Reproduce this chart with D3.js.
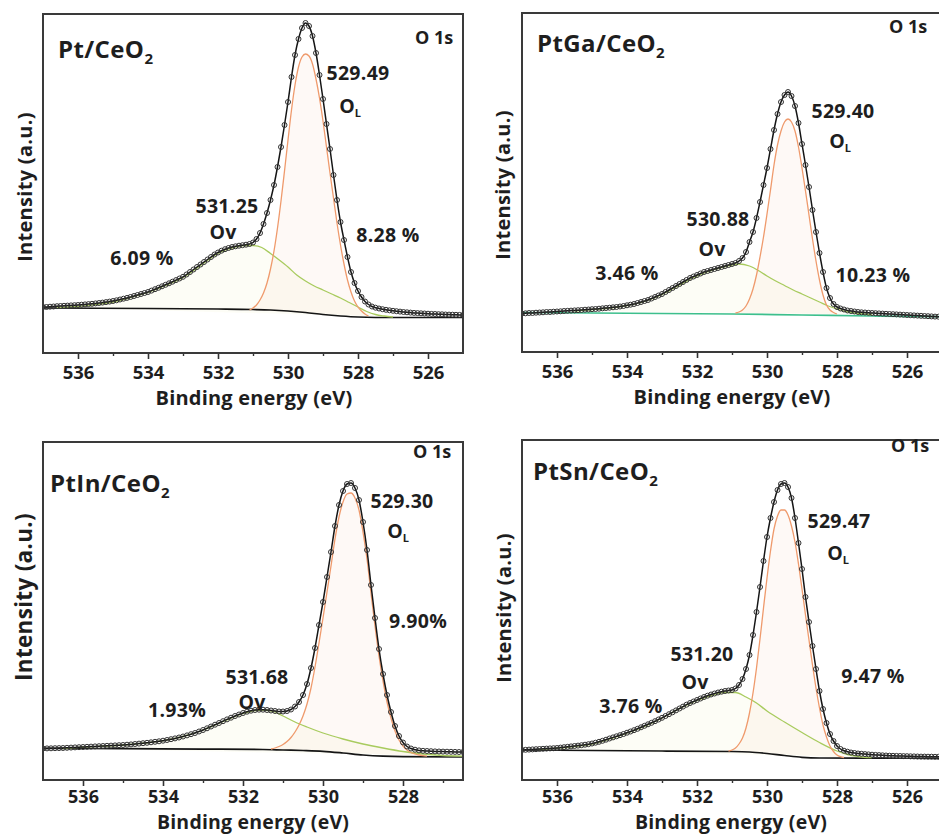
<!DOCTYPE html>
<html><head><meta charset="utf-8">
<script src="https://cdn.jsdelivr.net/npm/d3@7/dist/d3.min.js"></script>
<style>
body{margin:0;background:#fff;}
svg{display:block;}
text{font-family:'Open Sans',sans-serif;font-weight:700;fill:#1e1e1e;}
</style></head><body>
<svg id="chart" width="939" height="836"></svg>
<script>
// ---------------- DATA ----------------
const sampleNames = ['Pt/CeO', 'PtGa/CeO', 'PtIn/CeO', 'PtSn/CeO'];
const olPeakLabels = ['529.49', '529.40', '529.30', '529.47'];
const ovPeakLabels = ['531.25', '530.88', '531.68', '531.20'];
const ovPercent = ['6.09 %', '3.46 %', '1.93%', '3.76 %'];
const olPercent = ['8.28 %', '10.23 %', '9.90%', '9.47 %'];
const coreLevel = 'O 1s';
const xTitle = 'Binding energy (eV)';
const yTitle = 'Intensity (a.u.)';

const majorTicksWide = [536, 534, 532, 530, 528, 526];
const minorTicksWide = [535, 533, 531, 529, 527];
const majorTicksNarrow = [536, 534, 532, 530, 528];
const minorTicksNarrow = [535, 533, 531, 529, 527];

const STEP = 0.1; // eV between measured points
const startEnergy = 537;

// measured points (intensity, a.u.), from 537 eV downward in 0.1 eV steps
const ptData = [46,46,46.3,46.5,46.8,47,47.2,47.4,47.6,47.8,
 48,48.3,48.6,48.9,49.2,49.6,50,50.4,50.9,51.4,
 52,52.7,53.5,54.3,55.1,56,57,58,59,60,
 61,62.4,63.8,65.2,66.7,68.2,69.7,71.3,72.9,74.5,
 76.2,78.5,81,83.5,86,88.5,91,93.5,96,98.5,
 100.5,102.3,103.8,105,106,106.7,107.3,107.8,108.3,109,
 110.5,114,120,129,140,153,168,186,206,228,
 251,276,298,314,325,330,327,317,300,278,
 254,229,204,178,153,131,113,96,81,70,
 62,56,51.5,48.5,46.5,45.3,44.5,43.8,43.2,42.7,
 42.2,41.8,41.4,41,40.7,40.4,40.1,39.9,39.7,39.5,
 39.3,39.1,39,38.8,38.7,38.5,38.4,38.3,38.2,38.1,
 38];
const ptOL = [[531.1,43],[531.0,45],[530.9,48],[530.8,53],[530.7,60],[530.6,70],[530.5,84],[530.4,102],[530.3,125],[530.2,152],[530.1,182],[530.0,213],[529.9,243],[529.8,268],[529.7,286],[529.6,296],[529.5,299],[529.4,297],[529.3,289],[529.2,274],[529.1,255],[529.0,232],[528.9,206],[528.8,180],[528.7,155],[528.6,130],[528.5,108],[528.4,89],[528.3,73],[528.2,61],[528.1,52],[528.0,46],[527.9,42],[527.8,39],[527.7,37]];
const ptOV = [[536.6,45.5],[536,46.5],[535.5,48.5],[535,51],[534.5,55.5],[534,60.5],[533.5,67.5],[533,75.5],[532.5,87.5],[532,99.5],[531.75,103.5],[531.5,106],[531.25,107.5],[531,107.5],[530.75,105.5],[530.5,99.5],[530.25,93],[530,86],[529.75,78],[529.5,72],[529.25,67],[529,63],[528.75,59],[528.5,55],[528.25,50.5],[528,46],[527.75,41.5],[527.5,38.5],[527.25,37],[527,36]];
const ptBG = [[537,45],[534,44.5],[532,44],[531,43.5],[530.5,43],[530,42],[529.5,40.5],[529,38.5],[528.5,37],[528,36],[527,35.5],[525,35.5]];

const gaData = [38.5,38.7,39,39,39.3,39.5,39.7,40,40,40.3,
 40.5,40.7,41,41.2,41.4,41.6,41.8,42,42.3,42.5,
 42.8,43,43.3,43.7,44,44.3,44.7,45,45.5,46,
 46.7,47.3,48,49,50,51,52,53.5,55,56.5,
 58,60,62,64,66,68,70,72,74,75.5,
 77,78.5,80,81,82,83,84,85,86,87,
 88,89,91,94,100,110,120,134,150,167,
 184,203,222,238,250,257,260,256,246,229,
 208,187,165,142,120,99,80,64,54,48,
 45,43.5,42.5,41.5,41,40.5,40,39.7,39.5,39.2,
 39,38.8,38.6,38.4,38.2,38,37.8,37.6,37.4,37.2,
 37,36.8,36.6,36.4,36.2,36,35.8,35.6,35.4,35.3,
 35.2];
const gaOL = [[530.9,39],[530.8,40],[530.7,42],[530.6,46],[530.5,53],[530.4,63],[530.3,77],[530.2,95],[530.1,115],[530.0,138],[529.9,162],[529.8,187],[529.7,207],[529.6,221],[529.5,230],[529.4,233],[529.3,230],[529.2,221],[529.1,205],[529.0,184],[528.9,161],[528.8,137],[528.7,113],[528.6,91],[528.5,72],[528.4,57],[528.3,47],[528.2,42],[528.1,39.5],[528.0,38]];
const gaOV = [[535.5,41],[535,42.5],[534.5,44],[534,46.5],[533.5,50.5],[533,57.5],[532.5,67],[532,76],[531.5,82.5],[531,87],[530.8,88],[530.5,86],[530.2,80.5],[530,76],[529.75,71],[529.5,66.5],[529.25,62],[529,58],[528.75,54],[528.5,50],[528.25,46],[528,43],[527.75,40.5],[527.5,39],[527.25,38],[527,37.5]];
const gaBG = [[537,39.5],[535,39],[533,38.5],[531,38],[529,37],[527,36],[525,35.3]];

const inData = [31.5,31.6,31.7,31.8,31.9,32,32.2,32.4,32.6,32.8,
 33,33.2,33.4,33.6,33.8,34,34.2,34.4,34.6,34.8,
 35,35.3,35.6,36,36.4,36.8,37.2,37.7,38.2,38.7,
 39.3,40,40.8,41.6,42.5,43.5,44.6,45.8,47,48.5,
 50,51.7,53.5,55.3,57,58.8,60.6,62.3,64,65.5,
 67,68.3,69.3,70,70.3,70.3,70,69.5,69,68.5,
 68.5,69,70.5,73.5,78,85,96,112,132,155,
 178,203,228,254,275,289,296,297,292,280,
 258,230,195,162,131,106,85,68,54,44,
 37.5,33.5,31.5,30.3,29.6,29.2,29,28.8,28.6,28.5,
 28.4,28.3,28.2,28.1,28,
 28];
const inOL = [[531.3,31],[531.2,32],[531.1,33.5],[531.0,35.5],[530.9,38.5],[530.8,42.5],[530.7,48],[530.6,55],[530.5,64],[530.4,76],[530.3,92],[530.2,113],[530.1,137],[530.0,162],[529.9,188],[529.8,214],[529.7,241],[529.6,263],[529.5,278],[529.4,286],[529.3,287],[529.2,282],[529.1,270],[529.0,248],[528.9,221],[528.8,187],[528.7,154],[528.6,124],[528.5,99],[528.4,78],[528.3,62],[528.2,49],[528.1,40],[528.0,34],[527.9,30],[527.8,27.5],[527.7,26],[527.6,25],[527.5,24.3],[527.4,23.8]];
const inOV = [[536.5,31.5],[536,32.8],[535.5,33.8],[535,35],[534.5,36.8],[534,39.3],[533.5,43.5],[533,50],[532.5,58.5],[532,66.5],[531.7,69.5],[531.5,70],[531.2,68],[531,64],[530.7,58],[530.4,53],[530,47],[529.5,41],[529,36],[528.5,32],[528,28.5],[527.5,26],[527,24.5],[526.5,23.8]];
const inBG = [[537,31.7],[535,31.3],[533,30.9],[531.5,30.5],[531,30],[530.5,29.5],[530,28.7],[529.5,27],[529,25],[528.5,23.8],[528,23.3],[526.5,23]];

const snData = [30,30.2,30.4,30.6,30.8,31,31.2,31.4,31.6,31.8,
 32,32.4,32.8,33.2,33.6,34,34.4,34.8,35.3,35.8,
 36.5,37.3,38.2,39.2,40.3,41.5,42.6,43.7,44.8,46,
 47.3,48.5,49.8,51.2,52.7,54.2,55.7,57.2,58.8,60.5,
 62.2,64,65.8,67.7,69.6,71.5,73.4,75.3,77,78.5,
 80,81.5,83,84.3,85.5,86.5,87.5,88.3,89,89.5,
 90,91.5,95,101,111,125,145,168,193,219,
 243,262,278,290,296,297,293,282,262,237,
 211,183,158,134,111,89,71,57,46,39,
 34,31,29.3,28.3,27.5,27,26.5,26.2,25.9,25.6,
 25.3,25.1,24.9,24.7,24.5,24.3,24.2,24.1,24,23.9,
 23.8,23.7,23.6,23.5,23.4,23.4,23.3,23.3,23.2,23.2,
 23.2];
const snOL = [[531.1,29],[531.0,30],[530.9,32],[530.8,36],[530.7,42],[530.6,52],[530.5,67],[530.4,87],[530.3,112],[530.2,141],[530.1,172],[530.0,202],[529.9,229],[529.8,251],[529.7,264],[529.6,270],[529.5,270],[529.4,265],[529.3,254],[529.2,238],[529.1,216],[529.0,191],[528.9,165],[528.8,140],[528.7,115],[528.6,92],[528.5,72],[528.4,55],[528.3,43],[528.2,34],[528.1,28.5],[528.0,25],[527.9,23.3],[527.8,22.5]];
const snOV = [[536.5,30.5],[536,31.8],[535.5,33.5],[535,36],[534.5,41],[534,47],[533.5,53.5],[533,62],[532.5,71.5],[532,79.5],[531.5,85.5],[531.2,87.5],[530.9,87.5],[530.6,83],[530.3,77],[530,69],[529.5,58],[529,47.5],[528.5,37.5],[528,29],[527.7,25.5],[527.4,23.5],[527,22.3]];
const snBG = [[537,30],[535,29.5],[533,29],[531,28.5],[530.5,28],[530,26.5],[529.5,24.5],[529,22.7],[528.5,22],[527,21.8],[525,21.7]];

// ---------------- LAYOUT ----------------
const panels = [
  {data: ptData, ol: ptOL, ov: ptOV, bg: ptBG, bgColor: '#151515',
   box: [43, 14, 463, 353], domain: [537, 525], major: majorTicksWide, minor: minorTicksWide,
   title: [58, 58], core: [434, 44], olPk: [358, 80], olLab: [350, 113], ovPk: [227, 213], ovLab: [223, 239],
   ovPct: [142, 265], olPct: [388, 242], xl: [254, 405, 20], pad: 7, tfs: 18.5, yl: [24, 187, 20], fs: 19.5},
  {data: gaData, ol: gaOL, ov: gaOV, bg: gaBG, bgColor: '#3dbf8c',
   box: [522, 13, 942, 352], domain: [537, 525], major: majorTicksWide, minor: minorTicksWide,
   title: [537, 52], core: [908, 33], olPk: [843, 118], olLab: [840, 148], ovPk: [718, 226], ovLab: [712, 256],
   ovPct: [627, 280], olPct: [873, 282], xl: [732, 404, 20], pad: 7, tfs: 18.5, yl: [502, 185, 20], fs: 19.5},
  {data: inData, ol: inOL, ov: inOV, bg: inBG, bgColor: '#151515',
   box: [43, 442, 463, 780], domain: [537, 526.5], major: majorTicksNarrow, minor: minorTicksNarrow,
   title: [50, 492], core: [432, 458], olPk: [402, 508], olLab: [398, 538], ovPk: [257, 684], ovLab: [252, 709],
   ovPct: [177, 717], olPct: [418, 628], xl: [253, 829, 19.5], pad: 4, tfs: 18, yl: [23, 597, 22.5], fs: 19.5},
  {data: snData, ol: snOL, ov: snOV, bg: snBG, bgColor: '#151515',
   box: [522, 440, 942, 780], domain: [537, 525], major: majorTicksWide, minor: minorTicksWide,
   title: [533, 480], core: [910, 452], olPk: [839, 528], olLab: [838, 560], ovPk: [702, 661], ovLab: [695, 689],
   ovPct: [631, 713], olPct: [873, 683], xl: [731, 829, 19.5], pad: 4, tfs: 18, yl: [503, 608, 20], fs: 19.5}
];

const svg = d3.select('#chart');

panels.forEach((p, k) => {
  const [l, t, r, b] = p.box;
  const x = d3.scaleLinear().domain(p.domain).range([l, r]);
  const y = d3.scaleLinear().domain([0, b - t]).range([b, t]);
  const g = svg.append('g');
  const clipId = 'clip' + k;
  g.append('clipPath').attr('id', clipId).append('rect')
    .attr('x', l).attr('y', t).attr('width', r - l).attr('height', b - t);
  const plot = g.append('g').attr('clip-path', `url(#${clipId})`);

  const pts = p.data.map((v, i) => ({e: +(startEnergy - i * STEP).toFixed(2), v}));
  const pairLine = d3.line().x(d => x(d[0])).y(d => y(d[1])).curve(d3.curveMonotoneX);
  const ptLine = d3.line().x(d => x(d.e)).y(d => y(d.v)).curve(d3.curveMonotoneX);

  // very faint component fills
  plot.append('path').attr('d', pairLine(p.ov) + 'Z').attr('fill', '#f1f4c4').attr('fill-opacity', 0.15).attr('stroke', 'none');
  plot.append('path').attr('d', pairLine(p.ol) + 'Z').attr('fill', '#fbdcc6').attr('fill-opacity', 0.16).attr('stroke', 'none');

  // background
  plot.append('path').attr('d', pairLine(p.bg)).attr('fill', 'none')
    .attr('stroke', p.bgColor).attr('stroke-width', 1.7);
  // O_V component
  plot.append('path').attr('d', pairLine(p.ov)).attr('fill', 'none')
    .attr('stroke', '#a8cb5e').attr('stroke-width', 1.3);
  // O_L component
  plot.append('path').attr('d', pairLine(p.ol)).attr('fill', 'none')
    .attr('stroke', '#ef9a6c').attr('stroke-width', 1.3);
  // envelope
  plot.append('path').attr('d', ptLine(pts)).attr('fill', 'none')
    .attr('stroke', '#151515').attr('stroke-width', 1.5);
  // measured points
  plot.append('g').selectAll('circle').data(pts).join('circle')
    .attr('cx', d => x(d.e)).attr('cy', d => y(d.v)).attr('r', 2.5)
    .attr('fill', 'none').attr('stroke', '#333').attr('stroke-width', 1);

  // axes
  const ax = g.append('g').attr('transform', `translate(0,${b})`)
    .call(d3.axisBottom(x).tickValues(p.major).tickSize(6).tickSizeOuter(0).tickPadding(p.pad).tickFormat(d3.format('d')));
  ax.select('.domain').remove();
  ax.selectAll('.tick line').attr('stroke', '#333').attr('stroke-width', 1.6);
  ax.selectAll('.tick text').attr('font-size', p.tfs).attr('fill', '#1e1e1e')
    .style('font-family', "'Open Sans',sans-serif").style('font-weight', 700);
  const mx = g.append('g').attr('transform', `translate(0,${b})`)
    .call(d3.axisBottom(x).tickValues(p.minor).tickSize(3).tickSizeOuter(0).tickFormat(''));
  mx.select('.domain').remove();
  mx.selectAll('.tick line').attr('stroke', '#333').attr('stroke-width', 1.4);

  // frame
  g.append('rect').attr('x', l).attr('y', t).attr('width', r - l).attr('height', b - t)
    .attr('fill', 'none').attr('stroke', '#3a3a3a').attr('stroke-width', 2);

  // titles
  g.append('text').attr('x', p.xl[0]).attr('y', p.xl[1]).attr('text-anchor', 'middle')
    .attr('font-size', p.xl[2]).attr('letter-spacing', 0.2).text(xTitle);
  g.append('text').attr('transform', `translate(${p.yl[0]},${p.yl[1]}) rotate(-90)`)
    .attr('text-anchor', 'middle').attr('dominant-baseline', 'central')
    .attr('font-size', p.yl[2]).attr('letter-spacing', 0.3).text(yTitle);

  const tt = g.append('text').attr('x', p.title[0]).attr('y', p.title[1])
    .attr('font-size', 24).attr('letter-spacing', 0.4);
  tt.append('tspan').text(sampleNames[k]);
  tt.append('tspan').attr('font-size', 15).attr('dy', 6).text('2');

  g.append('text').attr('x', p.core[0]).attr('y', p.core[1]).attr('text-anchor', 'middle')
    .attr('font-size', 18).text(coreLevel);

  const lab = (pos, txt) => g.append('text').attr('x', pos[0]).attr('y', pos[1])
    .attr('text-anchor', 'middle').attr('font-size', p.fs).attr('letter-spacing', 0.3).text(txt);
  lab(p.olPk, olPeakLabels[k]);
  lab(p.ovPk, ovPeakLabels[k]);
  lab(p.ovLab, 'Ov');
  lab(p.ovPct, ovPercent[k]);
  lab(p.olPct, olPercent[k]);
  const ol = g.append('text').attr('x', p.olLab[0]).attr('y', p.olLab[1])
    .attr('text-anchor', 'middle').attr('font-size', p.fs);
  ol.append('tspan').text('O');
  ol.append('tspan').attr('font-size', 11).attr('dy', 4).text('L');
});
</script>
</body></html>
